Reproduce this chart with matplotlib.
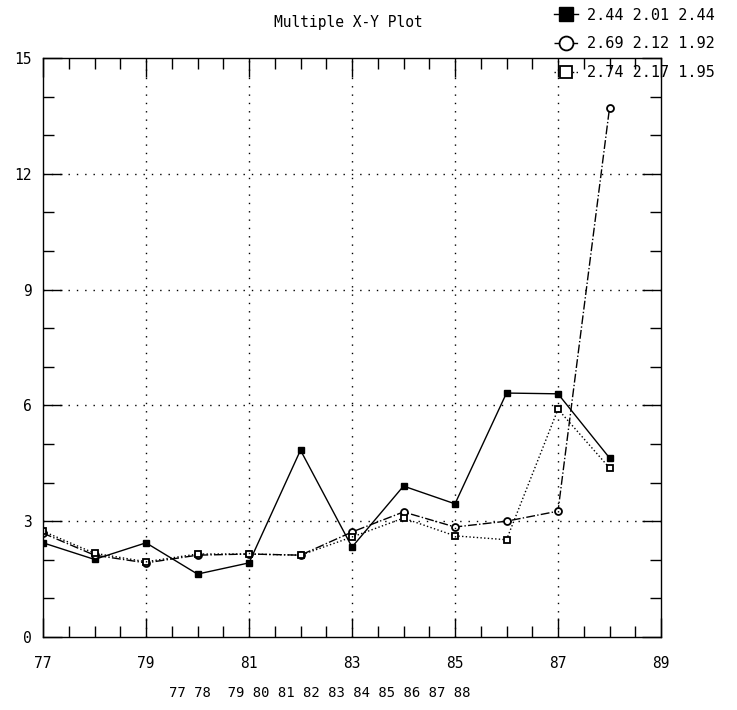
import matplotlib
matplotlib.use("Agg")
from matplotlib import pyplot as plt
from matplotlib.ticker import MultipleLocator

plt.rcParams['font.family'] = ['DejaVu Sans Mono', 'DejaVu Sans']

# data
years = [77, 78, 79, 80, 81, 82, 83, 84, 85, 86, 87, 88]
s1 = [2.44, 2.01, 2.44, 1.63, 1.92, 4.84, 2.33, 3.91, 3.45, 6.32, 6.30, 4.64]
s2 = [2.69, 2.12, 1.92, 2.12, 2.15, 2.12, 2.72, 3.24, 2.85, 3.00, 3.26, 13.7]
s3 = [2.74, 2.17, 1.95, 2.15, 2.15, 2.12, 2.59, 3.08, 2.62, 2.52, 5.90, 4.38]
lab1 = "2.44 2.01 2.44"
lab2 = "2.69 2.12 1.92"
lab3 = "2.74 2.17 1.95"
xticks = [77, 79, 81, 83, 85, 87, 89]
yticks = [0, 3, 6, 9, 12, 15]
year_row = "77 78  79 80 81 82 83 84 85 86 87 88"

fig = plt.figure(figsize=(7.37, 7.10), dpi=100)
ax = fig.add_axes([43/737, 1-637/710, (661-43)/737, (637-58)/710])

l1, = ax.plot(years, s1, color="black", lw=1.0, ls="-",
              marker="s", ms=5, mfc="black", mec="black", label=lab1)
l2, = ax.plot(years, s2, color="black", lw=1.0, ls="-.",
              marker="o", ms=5, mfc="white", mec="black", mew=1.3, label=lab2)
l3, = ax.plot(years, s3, color="black", lw=1.0, ls=":",
              marker="s", ms=4.5, mfc="white", mec="black", mew=1.3, label=lab3)

ax.set_xlim(77, 89)
ax.set_ylim(0, 15)
ax.set_xticks(xticks)
ax.set_yticks(yticks)
ax.xaxis.set_minor_locator(MultipleLocator(0.5))
ax.yaxis.set_minor_locator(MultipleLocator(1))
ax.tick_params(which="both", direction="in", top=True, right=True,
               labelsize=10.5, width=1.0)
ax.tick_params(axis="x", pad=14)
ax.tick_params(axis="y", pad=8)
ax.tick_params(which="major", length=14)
ax.tick_params(which="minor", length=8)

# dotted grid on inner major ticks
for gx in xticks[1:-1]:
    ax.axvline(gx, color="black", lw=1.0, ls=(0, (1, 5)))
for gy in yticks[1:-1]:
    ax.axhline(gy, color="black", lw=1.0, ls=(0, (1, 5)))

for sp in ax.spines.values():
    sp.set_linewidth(1.0)

fig.text(348/737, 1-22/710, "Multiple X-Y Plot", ha="center", va="center",
         fontsize=10.5)
fig.text(320/737, 1-693/710, year_row, ha="center", va="center", fontsize=10)

leg = fig.legend(handles=[l1, l2, l3], loc="upper left",
                 bbox_to_anchor=(546/737, 1.0), bbox_transform=fig.transFigure,
                 frameon=False, fontsize=11, markerscale=2.0,
                 handlelength=1.6, handletextpad=0.6, labelspacing=0.9,
                 borderaxespad=0.1)

fig.savefig("out.png", dpi=100)
